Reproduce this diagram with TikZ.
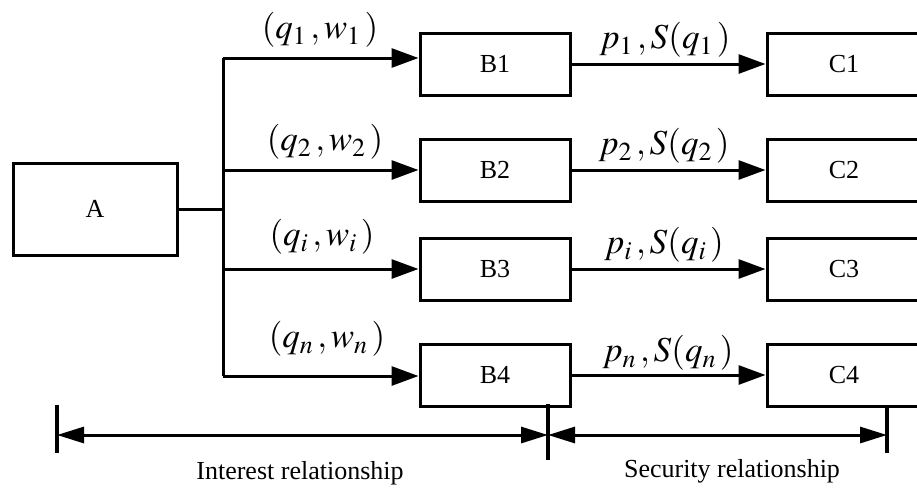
\documentclass[tikz,border=0pt]{standalone}
\usepackage{mathptmx}
\usepackage{fontspec}
\setmainfont{Liberation Serif}
\usetikzlibrary{arrows.meta}
\begin{document}
\begin{tikzpicture}[x=1pt,y=-1pt,
  box/.style={draw, line width=3pt, inner sep=0pt, minimum height=62pt, minimum width=150pt, font=\fontsize{26}{30}\selectfont},
  conn/.style={line width=3pt},
  arr/.style={line width=3pt, -{Triangle[length=27pt,width=19pt]}},
  dimline/.style={line width=3pt, {Triangle[length=27pt,width=16pt]}-{Triangle[length=27pt,width=16pt]}},
  tickline/.style={line width=4.5pt},
  lab/.style={font=\fontsize{35}{40}\selectfont, inner sep=0pt},
  captext/.style={font=\fontsize{26}{30}\selectfont, inner sep=0pt}]
\clip (0,0) rectangle (917,488);

\node[box, minimum width=164pt, minimum height=92pt] (A) at (95,209) {A};
\node[box] (B1) at (495,64) {B1};
\node[box] (B2) at (495,170) {B2};
\node[box] (B3) at (495,269) {B3};
\node[box] (B4) at (495,375) {B4};
\node[box, minimum width=154pt] (C1) at (844,64) {C1};
\node[box, minimum width=154pt] (C2) at (844,170) {C2};
\node[box, minimum width=154pt] (C3) at (844,269) {C3};
\node[box, minimum width=154pt] (C4) at (844,375) {C4};

\coordinate (t0) at (223,209);
\coordinate (t1) at (223,58);
\coordinate (t2) at (223,170);
\coordinate (t3) at (223,269);
\coordinate (t4) at (223,376);

\draw[conn] (A.east) -- (t0);
\draw[conn] (t1) -- (t4);
\draw[arr] (t1) -- (t1 -| B1.west);
\draw[arr] (t2) -- (t2 -| B2.west);
\draw[arr] (t3) -- (t3 -| B3.west);
\draw[arr] (t4) -- (t4 -| B4.west);

\draw[arr] (B1.east) -- (C1.west);
\draw[arr] (B2.east) -- (C2.west);
\draw[arr] (B3.east) -- (C3.west);
\draw[arr] (B4.east) -- (C4.west);

\node[lab] (l1) at (320,30) {$(q_1\,,w_1\,)$};
\node[lab] (l2) at (325,142) {$(q_2\,,w_2\,)$};
\node[lab] (l3) at (322,237) {$(q_i\,,w_i\,)$};
\node[lab] (l4) at (327,339) {$(q_n\,,w_n\,)$};

\node[lab] (m1) at (665,40) {$p_1\,,S(q_1\,)$};
\node[lab] (m2) at (664,146) {$p_2\,,S(q_2\,)$};
\node[lab] (m3) at (664,245) {$p_i\,,S(q_i\,)$};
\node[lab] (m4) at (668,353) {$p_n\,,S(q_n\,)$};

\coordinate (L) at (57,435);
\coordinate (M) at (548,435);
\coordinate (R) at (887,435);
\draw[tickline] (57,405) -- (57,453);
\draw[tickline] (548,404) -- (548,460);
\draw[tickline] (887,407) -- (887,453);
\draw[dimline] (L) -- (M);
\draw[dimline] (M) -- (R);

\node[captext] (i) at (300,473) {Interest relationship};
\node[captext] (s) at (732,471) {Security relationship};
\end{tikzpicture}
\end{document}
